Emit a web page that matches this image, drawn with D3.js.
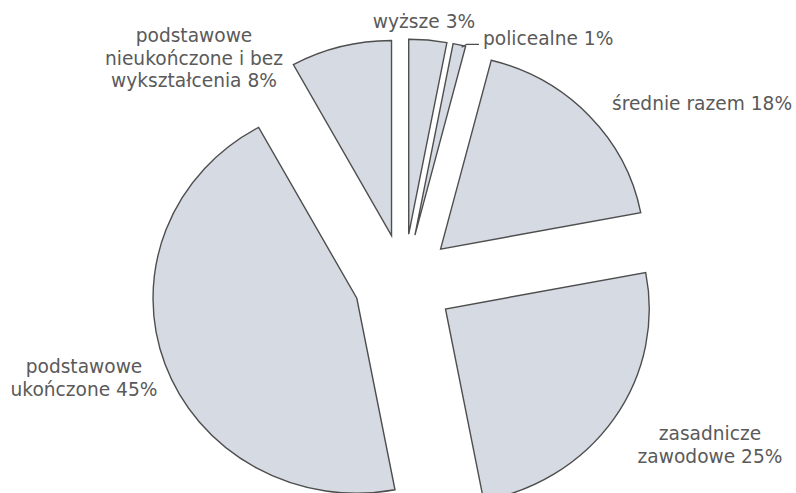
<!DOCTYPE html>
<html>
<head>
<meta charset="utf-8">
<script src="https://cdn.jsdelivr.net/npm/d3@7/dist/d3.min.js"></script>
<style>
	body { margin: 0; background: #fff; }
	text { font-family: "DejaVu Sans", Verdana, sans-serif; font-size: 18.6px; fill: #5a5a5a; }
</style>
</head>
<body>
<div id="chart"></div>
<script>
// shares of education levels, clockwise from 12 o'clock
var categories = ["wyższe", "policealne", "średnie razem", "zasadnicze zawodowe", "podstawowe ukończone", "podstawowe nieukończone i bez wykształcenia"];
var values = [3, 1, 18, 25, 45, 8];

var width = 796, height = 493;

var svg = d3.select("#chart").append("svg")
	.attr("width", width)
	.attr("height", height);

// the scan is a bit wider than tall, so the pie is stretched on x
var cx = 404, cy = 282, radius = 195, explode = 48, stretch = 1.045;

var pie = d3.pie().sort(null).startAngle(0).endAngle(2 * Math.PI);
var arc = d3.arc().innerRadius(0).outerRadius(radius);

var slices = pie(values);

var g = svg.append("g").attr("transform", "translate(" + cx + "," + cy + ") scale(" + stretch + ",1)");

g.selectAll("path.slice")
	.data(slices)
	.enter().append("path")
	.attr("class", "slice")
	.attr("d", arc)
	.attr("fill", "#d5dae3")
	.attr("stroke", "#4e4e4e")
	.attr("stroke-width", 1.4)
	.attr("vector-effect", "non-scaling-stroke")
	.attr("transform", function (d) {
		var a = (d.startAngle + d.endAngle) / 2;
		return "translate(" + (Math.sin(a) * explode) + "," + (-Math.cos(a) * explode) + ")";
	});

// label placement (per category index)
var labelLayout = [
	{ x: 424, y: 28, anchor: "middle", lines: ["wyższe " + values[0] + "%"] },
	{ x: 483, y: 45, anchor: "start", lines: ["policealne " + values[1] + "%"] },
	{ x: 612, y: 110, anchor: "start", lines: ["średnie razem " + values[2] + "%"] },
	{ x: 710, y: 440, anchor: "middle", lines: ["zasadnicze", "zawodowe " + values[3] + "%"] },
	{ x: 84, y: 373, anchor: "middle", lines: ["podstawowe", "ukończone " + values[4] + "%"] },
	{ x: 194, y: 42, anchor: "middle", lines: ["podstawowe", "nieukończone i bez", "wykształcenia " + values[5] + "%"] }
];

labelLayout.forEach(function (l) {
	var t = svg.append("text")
		.attr("x", l.x)
		.attr("y", l.y)
		.attr("text-anchor", l.anchor);
	l.lines.forEach(function (line, i) {
		t.append("tspan")
			.attr("x", l.x)
			.attr("dy", i === 0 ? 0 : 22.5)
			.text(line);
	});
});

// leader for the small slice
var pol = slices[1];
var pa = (pol.startAngle + pol.endAngle) / 2;
var px = cx + (Math.sin(pa) * explode + Math.sin(pol.endAngle) * radius) * stretch;
var py = cy - Math.cos(pa) * explode - Math.cos(pol.endAngle) * radius;
svg.append("path")
	.attr("d", "M" + (px - 4) + "," + (py + 1) + "L" + (px + 1) + "," + (py - 2) + "L479," + (py - 2))
	.attr("fill", "none")
	.attr("stroke", "#4e4e4e")
	.attr("stroke-width", 1.3);
</script>
</body>
</html>
